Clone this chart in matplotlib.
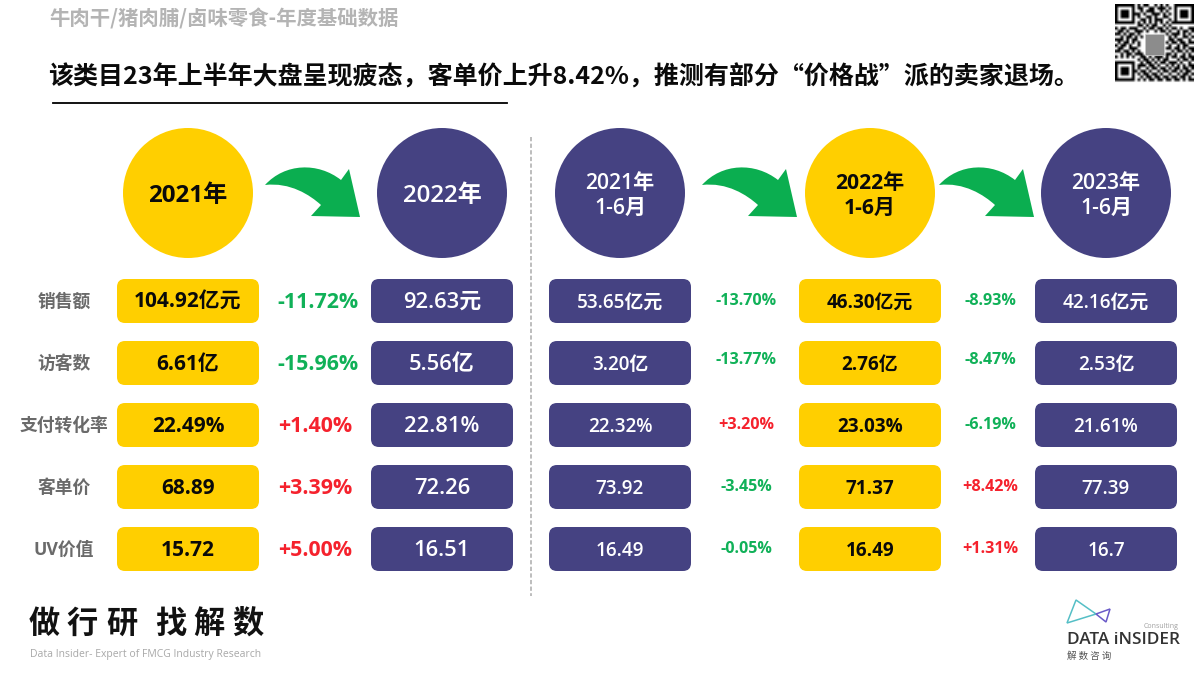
import matplotlib
matplotlib.use("Agg")
import matplotlib.pyplot as plt
import numpy as np
from matplotlib.patches import FancyBboxPatch, Circle, PathPatch, Polygon
from matplotlib.path import Path

FONT = ['Open Sans', 'Noto Sans CJK SC', 'DejaVu Sans']
CJK = ['Noto Sans CJK SC', 'DejaVu Sans']
plt.rcParams['font.family'] = FONT

header = "牛肉干/猪肉脯/卤味零食-年度基础数据"
title = "该类目23年上半年大盘呈现疲态，客单价上升8.42%，推测有部分“价格战”派的卖家退场。"
metrics = ["销售额", "访客数", "支付转化率", "客单价", "UV价值"]

col_heads = ["2021年", "2022年", "2021年\n1-6月", "2022年\n1-6月", "2023年\n1-6月"]
col_2021 = ["104.92亿元", "6.61亿", "22.49%", "68.89", "15.72"]
col_2022 = ["92.63元", "5.56亿", "22.81%", "72.26", "16.51"]
col_h121 = ["53.65亿元", "3.20亿", "22.32%", "73.92", "16.49"]
col_h122 = ["46.30亿元", "2.76亿", "23.03%", "71.37", "16.49"]
col_h123 = ["42.16亿元", "2.53亿", "21.61%", "77.39", "16.7"]
chg_year = ["-11.72%", "-15.96%", "+1.40%", "+3.39%", "+5.00%"]
chg_h1_a = ["-13.70%", "-13.77%", "+3.20%", "-3.45%", "-0.05%"]
chg_h1_b = ["-8.93%", "-8.47%", "-6.19%", "+8.42%", "+1.31%"]

YELLOW, PURPLE = "#FFCF00", "#454282"
GREEN, RED = "#10B158", "#F5222D"

fig = plt.figure(figsize=(12, 6.75), dpi=100, facecolor="white")
ax = fig.add_axes([0, 0, 1, 1])
ax.set_xlim(0, 1200)
ax.set_ylim(675, 0)
ax.axis("off")

# Header
ax.text(49, 19, header, fontsize=14.7, fontweight="bold", color="#B4B4B4", va="center", family=CJK)
ax.text(48, 77, title, fontsize=18.0, fontweight="bold", color="#0A0A0A", va="center", family=CJK)
ax.plot([53, 507], [103, 103], color="black", lw=1.3)
ax.plot([531, 531], [137, 596], color="#BDBDBD", lw=1.4, ls=(0, (2.2, 1.2)))

# Columns
columns = [
    (col_2021, 117, 188, YELLOW),
    (col_2022, 371, 442, PURPLE),
    (col_h121, 549, 620, PURPLE),
    (col_h122, 799, 870, YELLOW),
    (col_h123, 1035, 1106, PURPLE),
]
row_tops = [279, 341, 403, 465, 527]
BW, BH = 142, 44

for j, (vals, x0, cx, col) in enumerate(columns):
    ink = "#0A0A0A" if col == YELLOW else "white"
    weight = "bold" if col == YELLOW else "semibold"
    ax.add_patch(Circle((cx, 193), 65, fc=col, ec="none"))
    large = j < 2
    ax.text(cx, 196, col_heads[j], ha="center", va="center", color=ink, fontweight=weight,
            fontsize=17.4 if large else 15.2, linespacing=1.2, family=FONT)
    for i, v in enumerate(vals):
        ax.add_patch(FancyBboxPatch((x0 + 7, row_tops[i] + 7), BW - 14, BH - 14,
                                    boxstyle="round,pad=7,rounding_size=8", fc=col, ec="none"))
        size = (15.0 if j == 0 else 15.8) if j < 2 else 13.6
        ax.text(x0 + BW / 2, row_tops[i] + BH / 2 + 1.5, v, ha="center", va="center", color=ink,
                fontweight=weight, fontsize=size, family=FONT)

# Metric labels
for i, m in enumerate(metrics):
    ax.text(64, row_tops[i] + BH / 2 + 1, m, ha="center", va="center", color="#6A6A6A",
            fontweight="bold", fontsize=12.8, family=FONT)

# Change labels
for vals, cx, size in [(chg_year, 318, 15.4), (chg_h1_a, 746, 11.6), (chg_h1_b, 990, 11.6)]:
    for i, v in enumerate(vals):
        big = size > 12
        x = cx - (3 if (big and i in (2, 3, 4)) else 0)
        y = row_tops[i] + BH / 2 + (2 if big else -3 if i == 1 else 0)
        ax.text(x, y, v, ha="center", va="center", color=GREEN if v[0] == "-" else RED,
                fontweight="bold", fontsize=size, family=FONT)

# Arrows
def arrow(dx):
    verts = [(265, 185), (285, 163), (318, 162), (341, 180), (349, 169), (360, 217), (311, 216),
             (321, 205), (310, 195), (290, 182), (265, 185), (265, 185)]
    codes = [Path.MOVETO, Path.CURVE4, Path.CURVE4, Path.CURVE4, Path.LINETO, Path.LINETO, Path.LINETO,
             Path.LINETO, Path.CURVE4, Path.CURVE4, Path.CURVE4, Path.CLOSEPOLY]
    return Path([(x + dx, y) for x, y in verts], codes)

for dx in (0, 437, 674):
    ax.add_patch(PathPatch(arrow(dx), fc="#0BAE50", ec="none"))

# QR code (decorative)
qr_rows = [
    "1111111010110010101001111111",
    "1000001011001101110101000001",
    "1011101001011100101001011101",
    "1011101110100111010101011101",
    "1011101010011010011001011101",
    "1000001001101011100101000001",
    "1111111010101010101011111111",
    "0000000011010110010100000000",
    "1011011100101101101011010011",
    "0110100111010010110100101101",
    "1101011010000000001011101010",
    "0010110101000000000101001101",
    "1110101100000000000110110010",
    "0101101010000000001011011011",
    "1011010010000000000100101100",
    "0110011100000000001101101011",
    "1101101010000000000010110101",
    "0010110111000000001101001010",
    "1010101001101011101011011011",
    "0000000010110101011000101101",
    "1111111001011010110111010010",
    "1000001011101101001010101011",
    "1011101010010110110101101101",
    "1011101101101001011011010110",
    "1011101010110110100100101101",
    "1000001001011011011011011010",
    "1111111010101101101101101011",
    "0000000000000000000000000000",
]
qr = np.array([[int(c) for c in r] for r in qr_rows])
ax.imshow(1 - qr, cmap="gray", vmin=0, vmax=1, extent=(1115, 1194, 84, 4),
          interpolation="bilinear", aspect="auto", zorder=2)
ax.add_patch(plt.Rectangle((1145, 34), 19, 21, fc="#8C8C8C", ec="#C8C8C8", lw=0.5, zorder=3))
ax.set_xlim(0, 1200)
ax.set_ylim(675, 0)

# Footer left
slogan = "做行研 找解数"
slogan_x = [44, 82, 122, 0, 171, 209, 248]
for k, ch in enumerate(slogan):
    if ch != " ":
        ax.text(slogan_x[k], 624, ch, ha="center", va="center", color="#111111", fontsize=22.5,
                fontweight="bold", family=CJK)
ax.text(30, 654, "Data Insider- Expert of FMCG Industry Research", color="#A8A8A8", fontsize=7.5,
        va="center", family=FONT)

# Footer right logo
ax.add_patch(Polygon([(1076, 600), (1067, 623), (1096, 614)], closed=True, fc="none", ec="#55BFC6", lw=1.1))
ax.add_patch(Polygon([(1096, 614), (1110, 609), (1106, 622)], closed=True, fc="none", ec="#6A5AC8", lw=1.1))
ax.text(1178, 626, "Consulting", color="#A0A0A0", fontsize=5.0, ha="right", va="center", family=FONT)
ax.text(1067, 640, "DATA iNSIDER", color="#333333", fontsize=12.4, fontweight="semibold", va="center", family=FONT)
ax.text(1067, 656, "解 数 咨 询", color="#555555", fontsize=6.8, va="center", family=CJK)

fig.savefig("out.png", dpi=100, facecolor="white")
